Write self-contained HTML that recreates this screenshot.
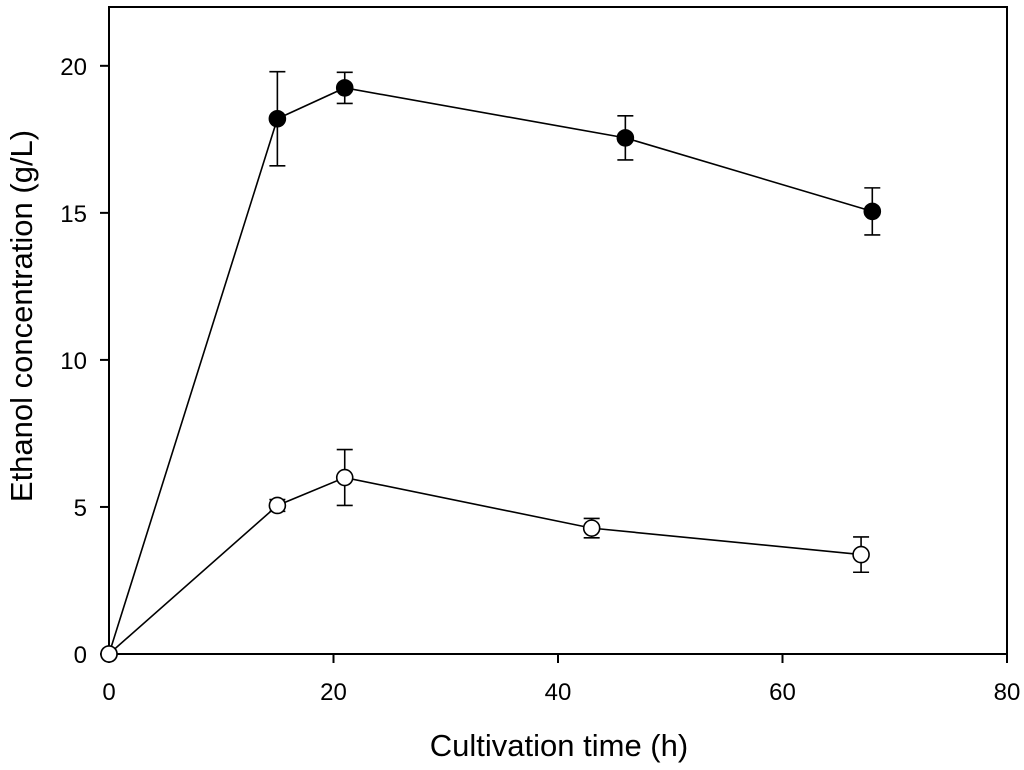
<!DOCTYPE html>
<html><head><meta charset="utf-8"><style>
html,body{margin:0;padding:0;background:#fff;}
svg{display:block;font-family:"Liberation Sans",Arial,sans-serif;}
</style></head><body>
<svg id="chart" width="1024" height="770" viewBox="0 0 1024 770"></svg>
<script>
const xTicks=[0,20,40,60,80];
const yTicks=[0,5,10,15,20];
const filledX=[0,15,21,46,68];
const filledY=[0,18.2,19.25,17.55,15.05];
const filledErr=[0,1.6,0.53,0.75,0.8];
const openX=[0,15,21,43,67];
const openY=[0,5.05,6.0,4.28,3.38];
const openErr=[0,0.2,0.95,0.33,0.6];

const L=109,R=1007,T=7,B=654;
const xs=v=>L+(v/80)*(R-L);
const ys=v=>B-(v/22)*(B-T);
const svg=document.getElementById('chart');
const NS='http://www.w3.org/2000/svg';
function mk(tag,attrs,parent){const e=document.createElementNS(NS,tag);for(const k in attrs)e.setAttribute(k,attrs[k]);(parent||svg).appendChild(e);return e;}

const frame=mk('rect',{x:L,y:T,width:R-L,height:B-T,fill:'none',stroke:'#000','stroke-width':2});



xTicks.forEach(t=>{
  const ln=mk('line',{x1:xs(t),x2:xs(t),y1:B,y2:B+9,stroke:'#000','stroke-width':2});
  
  
  const tx=mk('text',{x:xs(t),y:B+46,'text-anchor':'middle','font-size':24});
  tx.textContent=t;
  
  
});
yTicks.forEach(t=>{
  const ln=mk('line',{x1:L-9,x2:L,y1:ys(t),y2:ys(t),stroke:'#000','stroke-width':2});
  
  
  const tx=mk('text',{x:L-22,y:ys(t)+9,'text-anchor':'end','font-size':24});
  tx.textContent=t;
  
  
});

const xt=mk('text',{x:559,y:756,'text-anchor':'middle','font-size':31});
xt.textContent='Cultivation time (h)';


const yt=mk('text',{x:0,y:0,'text-anchor':'middle','font-size':31,transform:'translate(32,316) rotate(-90)'});
yt.textContent='Ethanol concentration (g/L)';



function series(X,Y,E,fill,name){
  const g=mk('g',{});
  
  
  const pl=mk('polyline',{points:X.map((x,i)=>xs(x)+','+ys(Y[i])).join(' '),fill:'none',stroke:'#000','stroke-width':1.6},g);
  
  
  X.forEach((x,i)=>{
    if(E[i]>0){
      const cx=xs(x),a=ys(Y[i]+E[i]),b=ys(Y[i]-E[i]);
      const eb=mk('path',{d:`M${cx},${a}V${b}M${cx-8},${a}H${cx+8}M${cx-8},${b}H${cx+8}`,stroke:'#000','stroke-width':1.6,fill:'none'},g);
      
      
    }
    const c=mk('circle',{cx:xs(x),cy:ys(Y[i]),r:8,fill:fill,stroke:'#000','stroke-width':1.6},g);
    
    
  });
}
series(filledX,filledY,filledErr,'#000','filled-series');
series(openX,openY,openErr,'#fff','open-series');
</script>
</body></html>
